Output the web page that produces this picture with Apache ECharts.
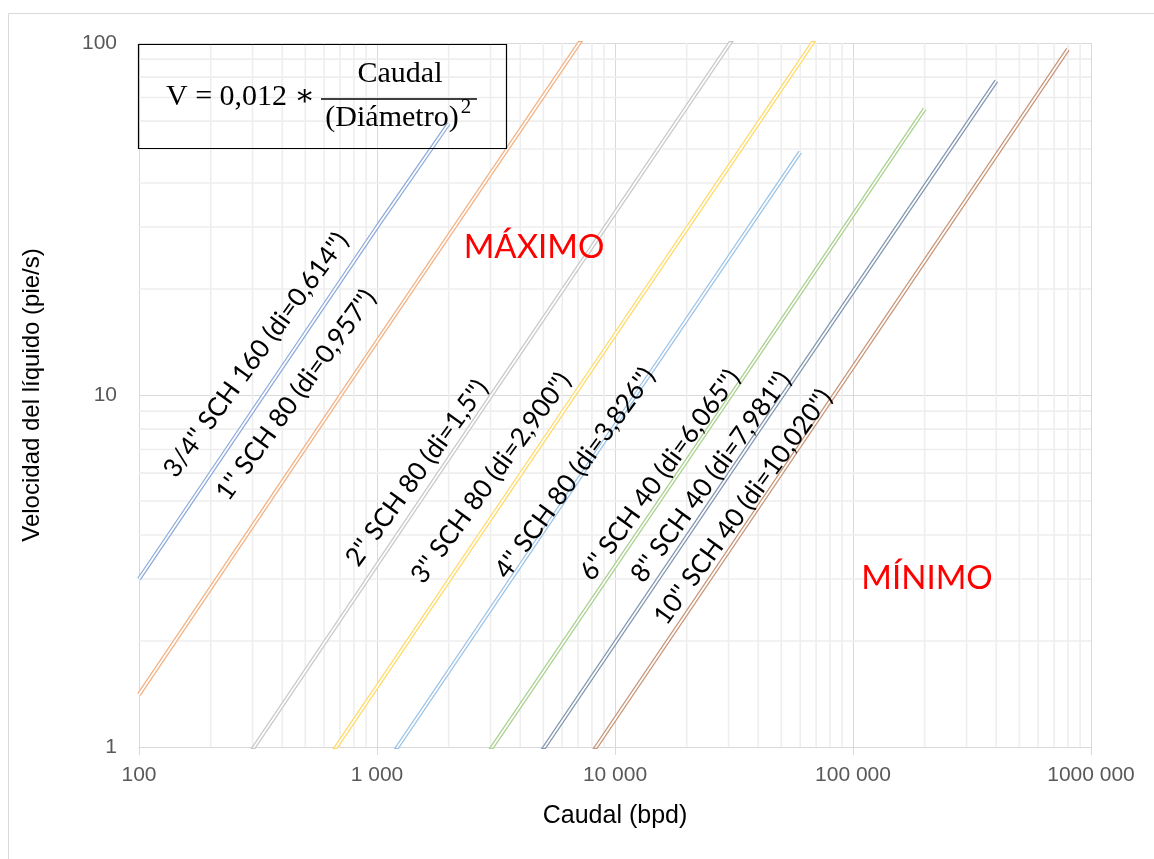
<!DOCTYPE html>
<html>
<head>
<meta charset="utf-8">
<script src="https://cdn.jsdelivr.net/npm/echarts@6/dist/echarts.min.js"></script>
<style>
  html, body { margin: 0; padding: 0; background: #fff; }
  #chart { width: 1154px; height: 859px; }
</style>
</head>
<body>
<div id="chart"></div>
<script>
// Tick labels of the two logarithmic axes
const xTickLabels = ['100', '1 000', '10 000', '100 000', '1000 000'];
const yTickLabels = ['1', '10', '100'];

// Pipe sizes (label texts)
const pipeNames = [
  "3/4'' SCH 160 (di=0,614'')",
  "1'' SCH 80 (di=0,957'')",
  "2'' SCH 80 (di=1,5'')",
  "3'' SCH 80 (di=2,900'')",
  "4'' SCH 80 (di=3,826'')",
  "6'' SCH 40 (di=6,065'')",
  "8'' SCH 40 (di=7,981'')",
  "10'' SCH 40 (di=10,020'')"
];

// Flow rate (bpd) and liquid velocity (ft/s) for each pipe
const caudal34 = [100, 1000, 2000];
const vel34    = [3.0, 30, 59];
const caudal1  = [100, 1000, 8000];
const vel1     = [1.41, 14.2, 113];
const caudal2  = [250, 3000, 35000];
const vel2     = [0.82, 9.9, 115];
const caudal3  = [600, 6000, 75000];
const vel3     = [0.89, 8.9, 111];
const caudal4  = [1000, 10000, 60000];
const vel4     = [0.82, 8.2, 49];
const caudal6  = [2500, 20000, 200000];
const vel6     = [0.82, 6.5, 65];
const caudal8  = [4000, 40000, 400000];
const vel8     = [0.79, 7.9, 78];
const caudal10 = [6500, 80000, 800000];
const vel10    = [0.78, 9.6, 96];

const caudales = [caudal34, caudal1, caudal2, caudal3, caudal4, caudal6, caudal8, caudal10];
const velocidades = [vel34, vel1, vel2, vel3, vel4, vel6, vel8, vel10];

const pipeColors = ['#8eaadb', '#f4b183', '#c9c9c9', '#ffd966', '#9dc3e6', '#a9d18e', '#8497b0', '#c9967a'];

// Pixel centres and rotation of the pipe captions
const captionPos = [
  [256, 355], [296, 395], [417, 473], [491, 478],
  [575, 473], [660, 475], [711, 477], [743, 507]
];
const captionAngle = 54 * Math.PI / 180;

// Minor grid positions (2..9 within each decade)
const xMinor = [];
for (let d = 100; d < 1e6; d *= 10) for (let k = 2; k <= 9; k++) xMinor.push(d * k);
const yMinor = [];
for (let d = 1; d < 100; d *= 10) for (let k = 2; k <= 9; k++) yMinor.push(d * k);

function minorGrid(values, vertical) {
  return {
    type: 'custom',
    silent: true,
    z: 1,
    data: values.map(v => vertical ? [v, 1] : [100, v]),
    renderItem(params, api) {
      const v = api.value(vertical ? 0 : 1);
      const a = vertical ? api.coord([v, 1]) : api.coord([100, v]);
      const b = vertical ? api.coord([v, 100]) : api.coord([1e6, v]);
      return {
        type: 'line',
        shape: { x1: a[0], y1: a[1], x2: b[0], y2: b[1] },
        style: { stroke: '#eeeeee', lineWidth: 1.6 }
      };
    }
  };
}

const series = [minorGrid(xMinor, true), minorGrid(yMinor, false)];
pipeNames.forEach((name, i) => {
  const data = caudales[i].map((q, j) => [q, velocidades[i][j]]);
  // double line: coloured stroke with a thin white core
  series.push({
    name: name, type: 'line', data: data, symbol: 'none', silent: true, clip: true, z: 3,
    lineStyle: { color: pipeColors[i], width: 4.2 }
  });
  series.push({
    name: name + ' core', type: 'line', data: data, symbol: 'none', silent: true, clip: true, z: 4,
    lineStyle: { color: '#ffffff', width: 1.7 }
  });
});

const serif = '30px "Liberation Serif", "DejaVu Serif", serif';
const graphics = [
  // outer chart frame
  { type: 'rect', shape: { x: 8.5, y: 13.5, width: 1160, height: 860 },
    style: { fill: 'none', stroke: '#d9d9d9', lineWidth: 1 }, z: 0, silent: true },
  // formula box
  { type: 'rect', shape: { x: 138.5, y: 44.5, width: 368, height: 104 },
    style: { fill: 'none', stroke: '#000', lineWidth: 1.2 }, z: 100 },
  { type: 'text', x: 166, y: 97, z: 100,
    style: { text: 'V = 0,012 \u2217', font: serif, fill: '#000', align: 'left', verticalAlign: 'middle' } },
  { type: 'text', x: 400, y: 74, z: 100,
    style: { text: 'Caudal', font: serif, fill: '#000', align: 'center', verticalAlign: 'middle' } },
  { type: 'line', shape: { x1: 321, y1: 99, x2: 477, y2: 99 }, z: 100,
    style: { stroke: '#000', lineWidth: 1.4 } },
  { type: 'text', x: 392, y: 118, z: 100,
    style: { text: '(Diámetro)', font: serif, fill: '#000', align: 'center', verticalAlign: 'middle' } },
  { type: 'text', x: 466, y: 107, z: 100,
    style: { text: '2', font: '21px "Liberation Serif", "DejaVu Serif", serif', fill: '#000',
      align: 'center', verticalAlign: 'middle' } },
  // zone captions
  { type: 'text', x: 534, y: 247, z: 100,
    style: { text: 'MÁXIMO', font: '33px Lato, "Open Sans", sans-serif', fill: '#ff0000',
      align: 'center', verticalAlign: 'middle' } },
  { type: 'text', x: 927, y: 578, z: 100,
    style: { text: 'MÍNIMO', font: '33px Lato, "Open Sans", sans-serif', fill: '#ff0000',
      align: 'center', verticalAlign: 'middle' } }
];
pipeNames.forEach((name, i) => {
  graphics.push({
    type: 'text', x: captionPos[i][0], y: captionPos[i][1], rotation: captionAngle, z: 100,
    style: { text: name, font: '26px Lato, "Open Sans", sans-serif', fill: '#000',
      align: 'center', verticalAlign: 'middle' }
  });
});

const chart = echarts.init(document.getElementById('chart'), null, { renderer: 'canvas' });
chart.setOption({
  animation: false,
  backgroundColor: '#fff',
  grid: { left: 139, right: 63, top: 43, bottom: 112, containLabel: false },
  xAxis: {
    type: 'log', logBase: 10, min: 100, max: 1e6,
    name: 'Caudal (bpd)', nameLocation: 'middle', nameGap: 57,
    nameTextStyle: { fontFamily: '"Liberation Sans", Arial, sans-serif', fontSize: 25, color: '#000' },
    axisLine: { show: true, lineStyle: { color: '#d9d9d9', width: 1 } },
    axisTick: { show: true, length: 8, lineStyle: { color: '#d9d9d9' } },
    axisLabel: {
      margin: 18, color: '#595959', fontSize: 21, fontFamily: '"Liberation Sans", Arial, sans-serif',
      formatter: v => xTickLabels[Math.round(Math.log10(v)) - 2]
    },
    splitLine: { show: true, lineStyle: { color: '#d9d9d9', width: 1 } },
    minorTick: { show: false }, minorSplitLine: { show: false }
  },
  yAxis: {
    type: 'log', logBase: 10, min: 1, max: 100,
    name: 'Velocidad del líquido (pie/s)', nameLocation: 'middle', nameGap: 95, nameRotate: 90,
    nameTextStyle: { fontFamily: '"Liberation Sans", Arial, sans-serif', fontSize: 24, color: '#000' },
    axisLine: { show: true, lineStyle: { color: '#d9d9d9', width: 1 } },
    axisTick: { show: false },
    axisLabel: {
      margin: 22, color: '#595959', fontSize: 21, fontFamily: '"Liberation Sans", Arial, sans-serif',
      formatter: v => yTickLabels[Math.round(Math.log10(v))]
    },
    splitLine: { show: true, lineStyle: { color: '#d9d9d9', width: 1 } }
  },
  series: series,
  graphic: graphics
});
</script>
</body>
</html>
